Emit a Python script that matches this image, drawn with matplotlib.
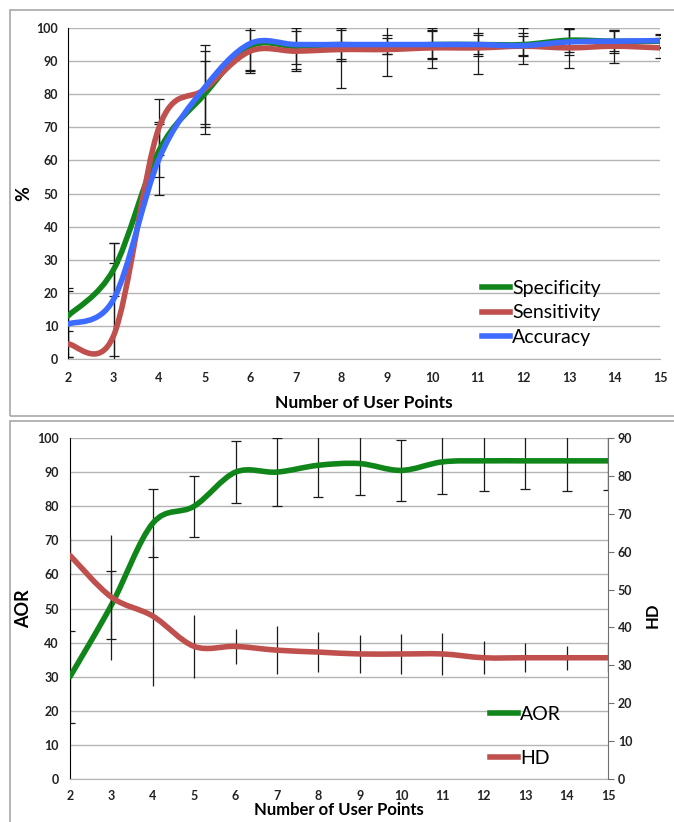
import numpy as np
import matplotlib
matplotlib.use('Agg')
import matplotlib.pyplot as plt
from matplotlib.path import Path
from matplotlib.patches import PathPatch, Rectangle
from matplotlib.lines import Line2D

plt.rcParams['font.family'] = ['Lato', 'DejaVu Sans']

# data
points = [2, 3, 4, 5, 6, 7, 8, 9, 10, 11, 12, 13, 14, 15]

specificity = [13, 27, 63, 80, 94.5, 94.5, 95, 94.5, 95, 95, 95, 96.3, 96, 96]
sensitivity = [4.5, 7, 70, 81.5, 93, 93, 93.5, 93.5, 94, 94, 94.5, 94, 94.5, 94]
accuracy = [10.5, 18, 60.5, 82, 95.3, 95, 95, 95, 95, 95, 94.7, 95.8, 96, 96.2]
spec_err = [8.5, 8, 8, 10, 7.5, 5.5, 4.5, 2.5, 4, 3, 3.5, 3.5, 3.5, 2]
sens_err = [4, 22, 8.5, 13.5, 6.5, 6, 11.5, 8, 6, 8, 5.5, 6, 5, 3]
acc_err = [10, 17, 11, 11, 8, 7.5, 5, 3, 4.5, 3.5, 3, 4, 3, 2]

aor = [30, 51, 75, 80, 90, 90, 92, 92.5, 90.5, 93, 93.3, 93.3, 93.3, 93.3]
aor_err = [13.5, 10, 10, 9, 9, 10, 9.2, 9.2, 9, 9.4, 8.7, 8.3, 8.8, 8.6]
hd = [59, 48, 43, 35, 35, 34, 33.5, 33, 33, 33, 32, 32, 32, 32]
hd_err = [5, 16.5, 18.5, 8.3, 4.6, 6.4, 5.3, 5, 5.3, 5.6, 4.4, 3.8, 3.2, 3.8]

GREEN = '#10861a'
RED = '#c0504d'
BLUE = '#3d6bff'
TXT = '#222222'
W, H = 674, 822


def smooth_path(x, y, k=1/6):
    # bezier curve through the points, like a spreadsheet "smoothed line"
    n = len(x)
    verts = [(x[0], y[0])]
    codes = [Path.MOVETO]
    for i in range(n - 1):
        i0 = max(i - 1, 0)
        i3 = min(i + 2, n - 1)
        c1 = (x[i] + (x[i + 1] - x[i0]) * k, y[i] + (y[i + 1] - y[i0]) * k)
        c2 = (x[i + 1] - (x[i3] - x[i]) * k, y[i + 1] - (y[i3] - y[i]) * k)
        verts += [c1, c2, (x[i + 1], y[i + 1])]
        codes += [Path.CURVE4] * 3
    return Path(verts, codes)


def smooth_line(ax, x, y, color, lw=4, z=3):
    ax.add_patch(PathPatch(smooth_path(x, y), fill=False, edgecolor=color,
                           lw=lw, capstyle='round', joinstyle='round', zorder=z))


def px_axes(l, r, t, b):
    return [l / W, 1 - b / H, (r - l) / W, (b - t) / H]


def bold_ticks(ax):
    for lab in ax.get_xticklabels() + ax.get_yticklabels():
        lab.set_fontweight('bold')


fig = plt.figure(figsize=(W / 100, H / 100), dpi=100)

# panel frames
for (l, t, r, b) in [(10, 10, 690, 416), (10, 421, 690, 840)]:
    fig.patches.append(Rectangle((l / W, 1 - b / H), (r - l) / W, (b - t) / H,
                                 transform=fig.transFigure, fill=False,
                                 edgecolor='#a8a8a8', lw=1.2))

# ---------- top chart ----------
ax1 = fig.add_axes(px_axes(68, 660, 28, 359))
ax1.set_xlim(2, 15)
ax1.set_ylim(0, 100)
ax1.set_xticks(points)
ax1.set_yticks(range(0, 101, 10))
ax1.grid(axis='y', color='#b4b4b4', lw=1)
ax1.set_axisbelow(True)
for s in ['top', 'right']:
    ax1.spines[s].set_visible(False)
ax1.spines['bottom'].set_color('#b4b4b4')
ax1.spines['left'].set_color('black')
ax1.tick_params(length=0, labelsize=9, labelcolor=TXT)
ax1.tick_params(axis='x', pad=9)
ax1.tick_params(axis='y', pad=7)
bold_ticks(ax1)

for vals, err in [(specificity, spec_err), (sensitivity, sens_err), (accuracy, acc_err)]:
    ax1.errorbar(points, vals, yerr=err, fmt='none', ecolor='#1a1a1a',
                 elinewidth=0.9, capsize=3.5, capthick=0.9, zorder=2)

smooth_line(ax1, points, specificity, GREEN)
smooth_line(ax1, points, sensitivity, RED)
smooth_line(ax1, points, accuracy, BLUE)

ax1.set_xlabel('Number of User Points', fontsize=12.5, fontweight='bold', labelpad=8)
ax1.set_ylabel('%', fontsize=13, fontweight='bold')
ax1.yaxis.set_label_coords(-0.061, 0.5)

h1 = [Line2D([], [], color=c, lw=4) for c in (GREEN, RED, BLUE)]
ax1.legend(h1, ['Specificity', 'Sensitivity', 'Accuracy'], loc='upper left',
           bbox_to_anchor=(0.699, 0.24), frameon=False, fontsize=14,
           handlelength=1.45, handletextpad=0.1, labelspacing=0.4, borderpad=0,
           borderaxespad=0)

# ---------- bottom chart ----------
ax2 = fig.add_axes(px_axes(70, 608, 438, 779))
ax2.set_xlim(2, 15)
ax2.set_ylim(0, 100)
ax2.set_xticks(points)
ax2.set_yticks(range(0, 101, 10))
ax2.grid(axis='y', color='#b4b4b4', lw=1)
ax2.set_axisbelow(True)
for s in ['top', 'right']:
    ax2.spines[s].set_visible(False)
ax2.spines['bottom'].set_color('#b4b4b4')
ax2.spines['left'].set_color('black')
ax2.tick_params(length=0, labelsize=9, labelcolor=TXT)
ax2.tick_params(axis='x', pad=8)
ax2.tick_params(axis='y', pad=8)
bold_ticks(ax2)

ax3 = ax2.twinx()
ax3.set_ylim(0, 90)
ax3.set_yticks(range(0, 91, 10))
for s in ['top', 'left', 'bottom']:
    ax3.spines[s].set_visible(False)
ax3.spines['right'].set_color('#707070')
ax3.tick_params(axis='y', length=4, color='#707070', labelsize=9, labelcolor=TXT, pad=3)
bold_ticks(ax3)

ax2.errorbar(points, aor, yerr=aor_err, fmt='none', ecolor='#1a1a1a',
             elinewidth=0.9, capsize=3.5, capthick=0.9, zorder=2)
ax3.errorbar(points, hd, yerr=hd_err, fmt='none', ecolor='#1a1a1a',
             elinewidth=0.9, capsize=0, zorder=2)

smooth_line(ax2, points, aor, GREEN)
smooth_line(ax3, points, hd, RED)

ax2.set_xlabel('Number of User Points', fontsize=12, fontweight='bold', labelpad=0)
ax2.set_ylabel('AOR', fontsize=13, fontweight='bold')
ax2.yaxis.set_label_coords(-0.071, 0.5)
ax3.set_ylabel('HD', fontsize=12, fontweight='bold')
ax3.yaxis.set_label_coords(1.069, 0.48)

h2 = [Line2D([], [], color=c, lw=4) for c in (GREEN, RED)]
ax3.legend(h2, ['AOR', 'HD'], loc='upper left', bbox_to_anchor=(0.78, 0.215),
           frameon=False, fontsize=14, handlelength=1.45, handletextpad=0.1,
           labelspacing=1.4, borderpad=0, borderaxespad=0)

fig.savefig('out.png', dpi=100)
